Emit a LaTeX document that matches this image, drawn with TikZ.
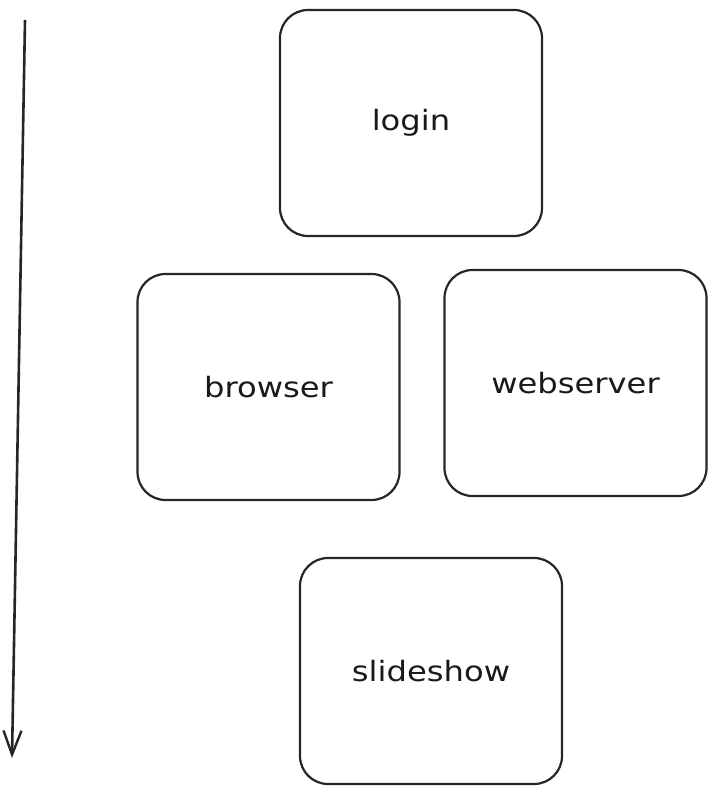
\documentclass[tikz,border=0pt]{standalone}
\usepackage{fontspec}
\setmainfont{DejaVu Sans}[FakeStretch=1.15]
\usetikzlibrary{arrows.meta}
\begin{document}
\begin{tikzpicture}[x=1pt,y=-1pt,
  box/.style={draw=black!85, line width=2.2pt, rounded corners=28pt,
    minimum width=262pt, minimum height=226pt, inner sep=0pt,
    font=\fontsize{28}{33}\selectfont, text=black!90},
  timeline/.style={draw=black!85, line width=2.6pt,
    -{Straight Barb[length=24pt,width=18pt,line width=2.4pt]}}]
\useasboundingbox (0,0) rectangle (716,794);
\node[box] (login) at (411,123) {login};
\node[box] (browser) at (268.5,387) {browser};
\node[box] (webserver) at (575.5,383) {webserver};
\node[box] (slideshow) at (431,671) {slideshow};
\coordinate (tstart) at (25,20);
\coordinate (tend) at (12,758);
\draw[timeline] (tstart) -- (tend);
\end{tikzpicture}
\end{document}
